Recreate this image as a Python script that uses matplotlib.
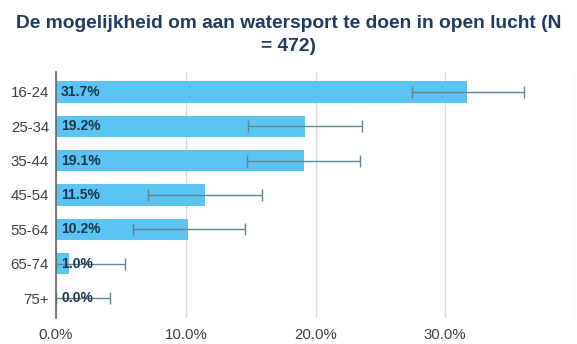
import matplotlib
matplotlib.use("Agg")
import matplotlib.pyplot as plt
import numpy as np

plt.rcParams['font.family'] = ['Liberation Sans', 'DejaVu Sans']

categories = ["16-24", "25-34", "35-44", "45-54", "55-64", "65-74", "75+"]
values = [31.7, 19.2, 19.1, 11.5, 10.2, 1.0, 0.0]
err_low = [27.4, 14.8, 14.7, 7.1, 5.9, 0.0, 0.0]
err_high = [36.1, 23.6, 23.4, 15.9, 14.6, 5.3, 4.2]
labels = ["31.7%", "19.2%", "19.1%", "11.5%", "10.2%", "1.0%", "0.0%"]
xticks = [0, 10, 20, 30, 40]
xticklabels = ["0.0%", "10.0%", "20.0%", "30.0%", ""]
title = "De mogelijkheid om aan watersport te doen in open lucht (N\n= 472)"

fig = plt.figure(figsize=(5.77, 3.44), dpi=100)
ax = fig.add_axes([56/577, 1-318/344, 519/577, (318-72)/344])

y = np.arange(len(categories))
vals = np.array(values)
lo = vals - np.array(err_low)
hi = np.array(err_high) - vals

ax.barh(y, vals, height=0.62, color="#5bc4f0", zorder=2)
ax.errorbar(vals, y, xerr=[lo, hi], fmt='none', ecolor="#5f8699", elinewidth=1.0,
            capsize=4, capthick=1.0, zorder=3)
for yi, lab in zip(y, labels):
    ax.text(0.4, yi, lab, va='center', ha='left', fontsize=10, fontweight='bold',
            color="#1b3550", zorder=4)

ax.set_xlim(0, 40)
ax.set_ylim(6.58, -0.58)
ax.set_yticks(y)
ax.set_yticklabels(categories, fontsize=10.8, color="#404040")
ax.set_xticks(xticks)
ax.set_xticklabels(xticklabels, fontsize=10.8, color="#404040")
ax.tick_params(axis='x', length=0, pad=7)
ax.tick_params(axis='y', length=0, pad=5)
ax.grid(axis='x', color="#d9d9d9", linewidth=1.0, zorder=0)
for s in ['top', 'right', 'bottom']:
    ax.spines[s].set_visible(False)
ax.spines['left'].set_color("#666666")
ax.spines['left'].set_linewidth(1.2)
ax.spines['left'].set_zorder(5)

fig.text(0.5, 1-35/344, title, ha='center', va='center', fontsize=13.8,
         fontweight='bold', color="#1f3b63", linespacing=1.45)

fig.savefig("out.png", dpi=100)
